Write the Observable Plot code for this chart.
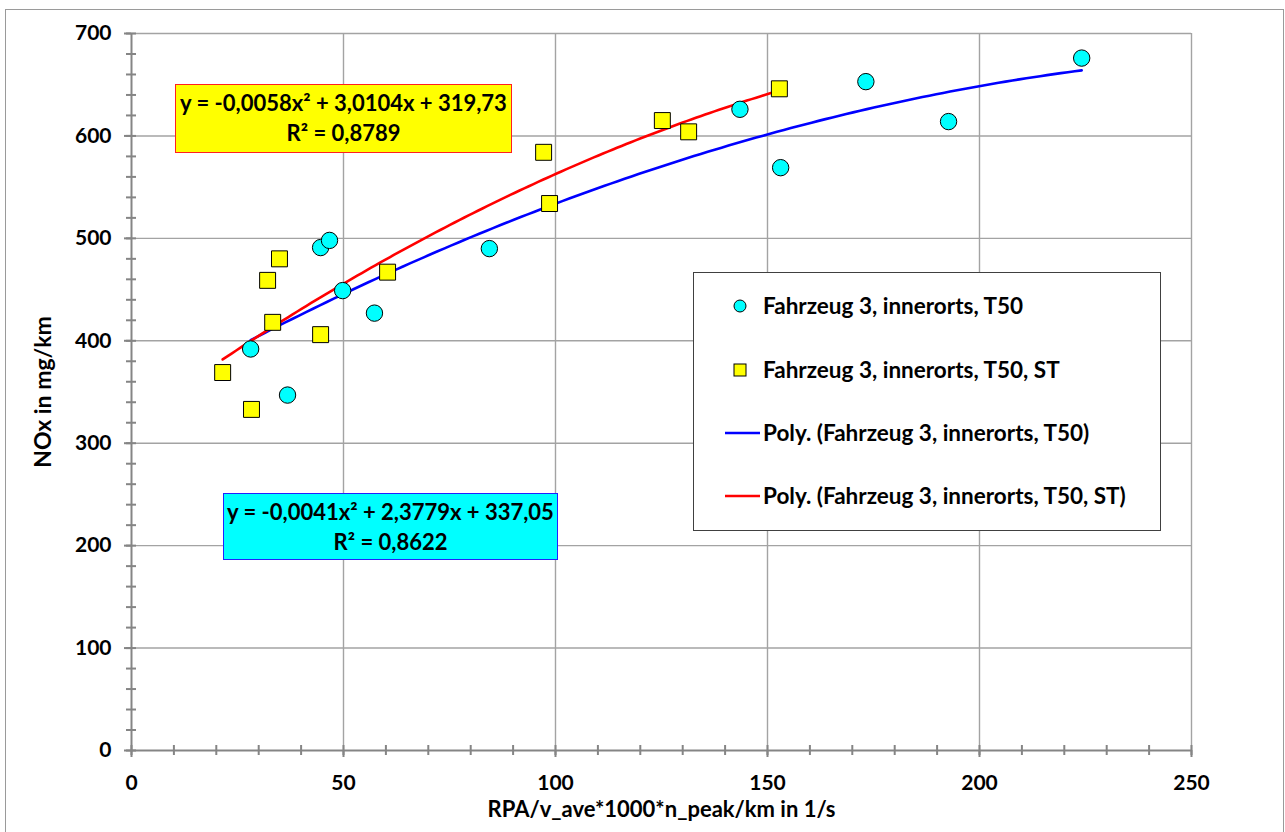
<!DOCTYPE html>
<html>
<head>
<meta charset="utf-8">
<script src="https://cdn.jsdelivr.net/npm/d3@7"></script>
<script src="https://cdn.jsdelivr.net/npm/@observablehq/plot@0.6"></script>
<style>
  html, body { margin: 0; padding: 0; background: #fff; overflow: hidden; }
  #wrap { position: relative; width: 1285px; height: 832px; font-family: Lato, "Open Sans", sans-serif; font-weight: bold; }
  #frame { position: absolute; left: 5px; top: 9px; width: 1279px; height: 900px; border: 1.6px solid #9a9a9a; box-sizing: border-box; pointer-events: none; }
  .eq { position: absolute; text-align: center; font-size: 22px; line-height: 30px; color: #000; box-sizing: border-box; padding-top: 3px; white-space: nowrap; }
  #legend { position: absolute; left: 693px; top: 272px; width: 468px; height: 259px; background: #fff; border: 1.5px solid #404040; box-sizing: border-box; }
</style>
</head>
<body>
<div id="wrap">
  <div id="chart"></div>
  <div id="frame"></div>
</div>
<script>
// ---- data ----
const seriesNames = ["Fahrzeug 3, innerorts, T50", "Fahrzeug 3, innerorts, T50, ST"];
const trendNames = ["Poly. (Fahrzeug 3, innerorts, T50)", "Poly. (Fahrzeug 3, innerorts, T50, ST)"];

const xT50 = [28.1, 36.8, 44.6, 46.7, 49.8, 57.3, 84.4, 143.5, 153.1, 173.2, 192.7, 224.1];
const yT50 = [392, 347, 491, 498, 449, 427, 490, 626, 569, 653, 614, 676];

const xST = [21.5, 28.3, 32.1, 34.9, 33.3, 44.6, 60.4, 97.2, 98.6, 125.2, 131.4, 152.8];
const yST = [369, 333, 459, 480, 418, 406, 467, 584, 534, 615, 604, 646];

// trend line coefficients as printed on the chart: y = a x^2 + b x + c
const coefT50 = [-0.0041, 2.3779, 337.05];
const coefST = [-0.0058, 3.0104, 319.73];
const eqT50 = ["y = -0,0041x² + 2,3779x + 337,05", "R² = 0,8622"];
const eqST = ["y = -0,0058x² + 3,0104x + 319,73", "R² = 0,8789"];

const xMajor = [0, 50, 100, 150, 200, 250];
const xMinor = d3.range(0, 251, 10);
const yMajor = [0, 100, 200, 300, 400, 500, 600, 700];
const yMinor = d3.range(0, 701, 20);

const xLabel = "RPA/v_ave*1000*n_peak/km in 1/s";
const yLabel = "NOx in mg/km";

// ---- build tables ----
const ptsT50 = xT50.map((x, i) => ({x, y: yT50[i]}));
const ptsST = xST.map((x, i) => ({x, y: yST[i]}));
function curve(coef, xs) {
  const lo = d3.min(xs), hi = d3.max(xs);
  const n = 120;
  return d3.range(n + 1).map(i => {
    const x = lo + (hi - lo) * i / n;
    return {x, y: coef[0] * x * x + coef[1] * x + coef[2]};
  });
}
const lineT50 = curve(coefT50, xT50);
const lineST = curve(coefST, xST);

const axisColor = "#858585";
const gridColor = "#a3a3a3";

const chart = Plot.plot({
  width: 1285,
  height: 832,
  marginLeft: 131,
  marginRight: 94,
  marginTop: 33,
  marginBottom: 82,
  style: {fontFamily: "Lato, 'Open Sans', sans-serif", fontWeight: "bold", fontSize: "21px", color: "#000", background: "transparent"},
  x: {domain: [0, 250]},
  y: {domain: [0, 700]},
  marks: [
    Plot.ruleX(xMajor.slice(1), {stroke: gridColor, strokeWidth: 1.4}),
    Plot.ruleY(yMajor.slice(1), {stroke: gridColor, strokeWidth: 1.4}),
    Plot.ruleX([0], {stroke: axisColor, strokeWidth: 2}),
    Plot.ruleY([0], {stroke: axisColor, strokeWidth: 2}),
    Plot.axisY(yMajor, {tickSize: 7, tickPadding: 13, stroke: axisColor, strokeWidth: 2, fontSize: 21, label: null}),
    Plot.axisY(yMinor, {tickSize: 10, dx: 5, stroke: axisColor, strokeWidth: 2, text: null, label: null}),
    Plot.axisX(xMajor, {tickSize: 7, tickPadding: 18, stroke: axisColor, strokeWidth: 2, fontSize: 21, label: null}),
    Plot.axisX(xMinor, {tickSize: 10, dy: -5, stroke: axisColor, strokeWidth: 2, text: null, label: null}),
    Plot.axisY({ticks: [], label: yLabel, labelAnchor: "center", labelOffset: 97, labelArrow: "none", fontSize: 23, tickSize: 0, dy: 9}),
    Plot.axisX({ticks: [], label: xLabel, labelAnchor: "center", labelOffset: 66, labelArrow: "none", fontSize: 22, tickSize: 0}),
    Plot.line(lineT50, {x: "x", y: "y", stroke: "#0000ff", strokeWidth: 2.6}),
    Plot.line(lineST, {x: "x", y: "y", stroke: "#ff0000", strokeWidth: 2.6}),
    Plot.dot(ptsT50, {x: "x", y: "y", r: 8.2, fill: "#00ffff", stroke: "#000", strokeWidth: 1}),
    Plot.dot(ptsST, {x: "x", y: "y", r: 9, symbol: "square", fill: "#ffff00", stroke: "#000", strokeWidth: 1})
  ]
});
document.getElementById("chart").appendChild(chart);

const wrap = document.getElementById("wrap");
function eqBox(lines, left, top, w, h, bg, border) {
  const d = document.createElement("div");
  d.className = "eq";
  Object.assign(d.style, {left: left + "px", top: top + "px", width: w + "px", height: h + "px", background: bg, border: "1.5px solid " + border});
  lines.forEach(t => { const s = document.createElement("div"); s.textContent = t; d.appendChild(s); });
  wrap.appendChild(d);
}
eqBox(eqST, 175, 84, 337, 69, "#ffff00", "#ff2020");
eqBox(eqT50, 223, 493, 335, 67, "#00ffff", "#2020ff");

// legend
const lg = document.createElement("div");
lg.id = "legend";
const NS = "http://www.w3.org/2000/svg";
const svg = document.createElementNS(NS, "svg");
svg.setAttribute("width", 465); svg.setAttribute("height", 256);
svg.style.fontFamily = "Lato, 'Open Sans', sans-serif";
svg.style.fontWeight = "bold";
svg.style.fontSize = "22.5px";
const rows = [
  {kind: "circle", label: seriesNames[0], y: 33},
  {kind: "square", label: seriesNames[1], y: 97},
  {kind: "line", color: "#0000ff", label: trendNames[0], y: 160},
  {kind: "line", color: "#ff0000", label: trendNames[1], y: 223}
];
rows.forEach(r => {
  let el;
  if (r.kind === "circle") {
    el = document.createElementNS(NS, "circle");
    el.setAttribute("cx", 46); el.setAttribute("cy", r.y); el.setAttribute("r", 6);
    el.setAttribute("fill", "#00ffff"); el.setAttribute("stroke", "#000");
  } else if (r.kind === "square") {
    el = document.createElementNS(NS, "rect");
    el.setAttribute("x", 40); el.setAttribute("y", r.y - 6); el.setAttribute("width", 12); el.setAttribute("height", 12);
    el.setAttribute("fill", "#ffff00"); el.setAttribute("stroke", "#000");
  } else {
    el = document.createElementNS(NS, "line");
    el.setAttribute("x1", 31); el.setAttribute("x2", 66); el.setAttribute("y1", r.y); el.setAttribute("y2", r.y);
    el.setAttribute("stroke", r.color); el.setAttribute("stroke-width", 2.6);
  }
  svg.appendChild(el);
  const t = document.createElementNS(NS, "text");
  t.setAttribute("x", 69); t.setAttribute("y", r.y); t.setAttribute("dy", "0.35em");
  t.textContent = r.label;
  svg.appendChild(t);
});
lg.appendChild(svg);
wrap.appendChild(lg);
</script>
</body>
</html>
